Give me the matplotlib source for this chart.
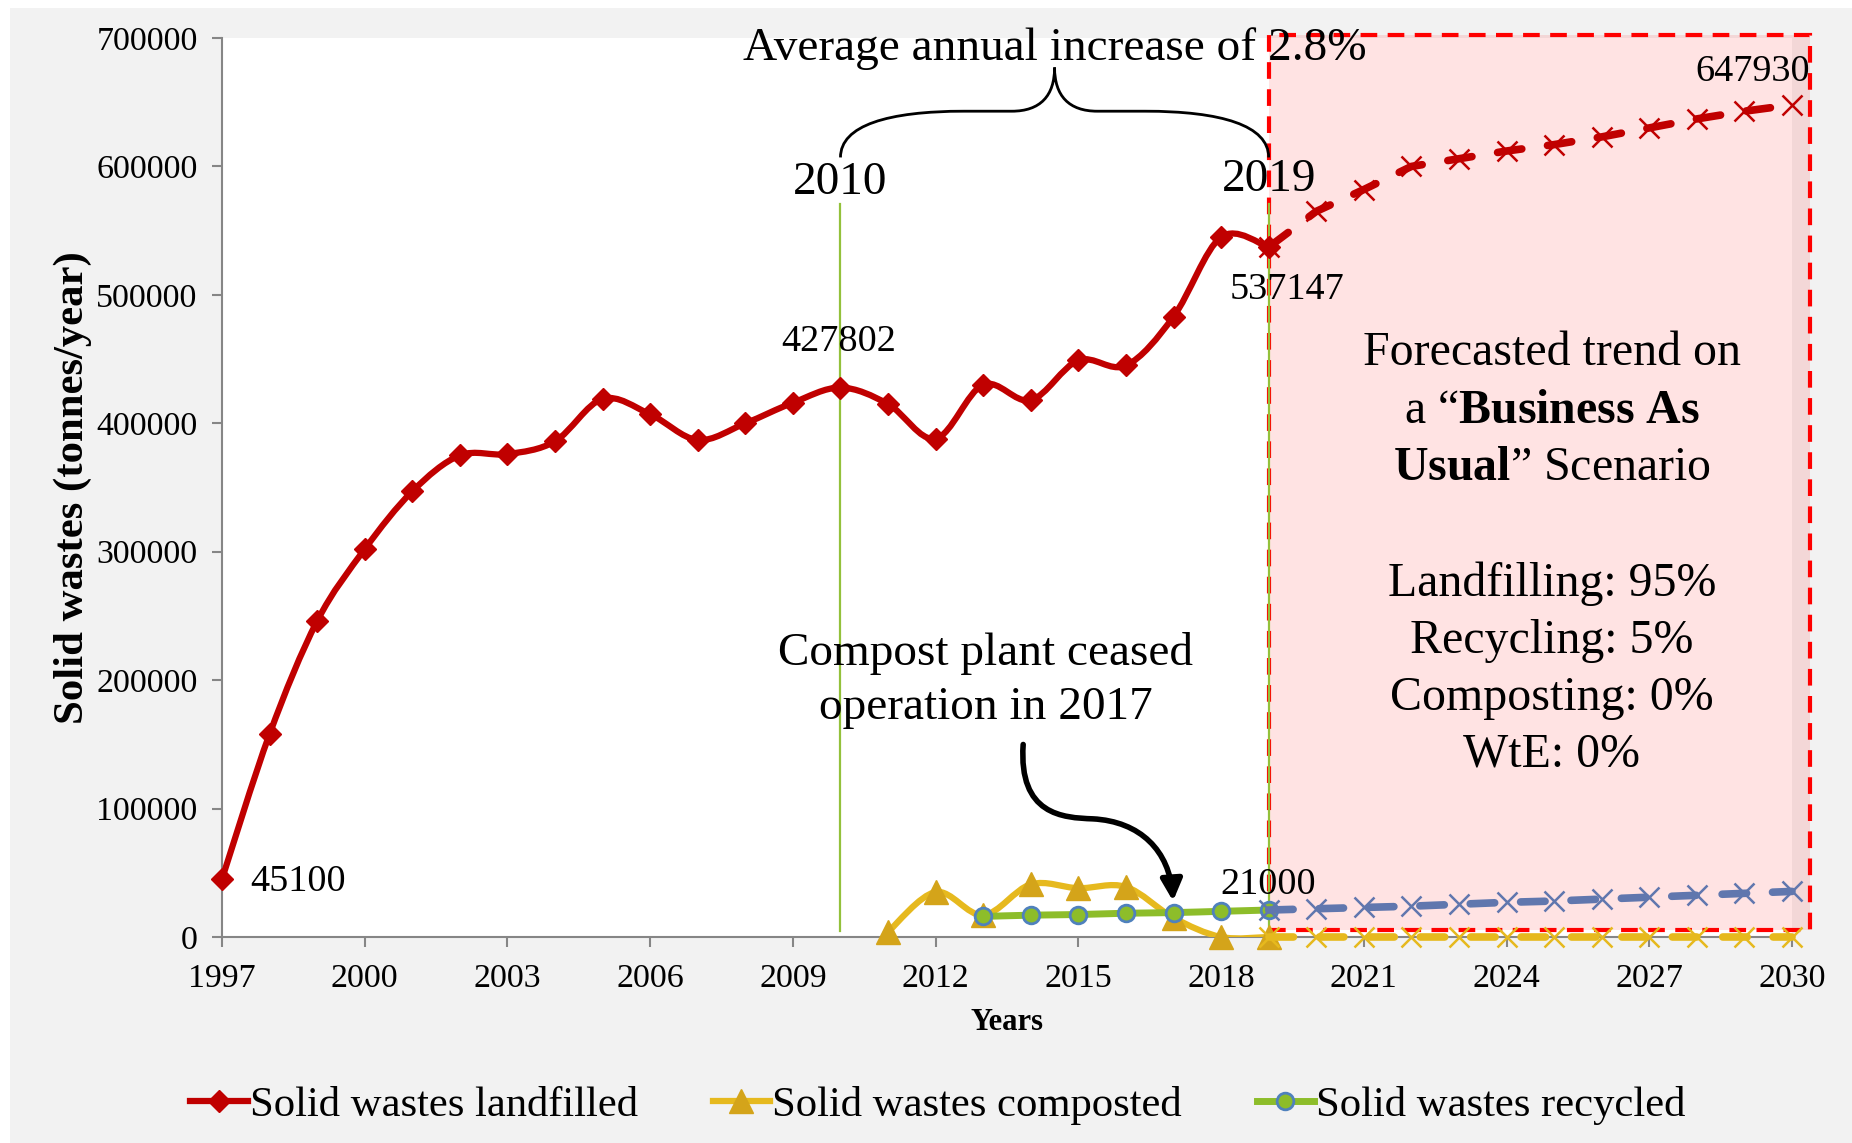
import matplotlib
matplotlib.use("Agg")
import matplotlib.pyplot as plt
import numpy as np
from matplotlib.path import Path
from matplotlib.patches import PathPatch, Rectangle, FancyArrowPatch
from matplotlib.lines import Line2D
from matplotlib.ticker import FuncFormatter

plt.rcParams['font.family'] = ['Liberation Serif', 'DejaVu Serif']
plt.rcParams['mathtext.fontset'] = 'custom'
plt.rcParams['mathtext.rm'] = 'Liberation Serif'
plt.rcParams['mathtext.bf'] = 'Liberation Serif:bold'
plt.rcParams['mathtext.it'] = 'Liberation Serif:italic'

# historical data
years_land = list(range(1997, 2020))
landfilled = [45100, 158000, 246000, 302000, 347000, 375000, 376000, 386000, 419000, 407000,
              387000, 400000, 416000, 427802, 415000, 388000, 430000, 418000, 449000, 445000,
              483000, 545000, 537147]
years_comp = list(range(2011, 2020))
composted = [4000, 35000, 17000, 41000, 38000, 39000, 15000, 0, 0]
years_rec = list(range(2013, 2020))
recycled = [16000, 17000, 17500, 18500, 19000, 20000, 21000]

# "business as usual" forecast
years_fc = list(range(2019, 2031))
fc_landfilled = [537147, 565000, 582000, 600000, 606000, 612000, 617000, 623000, 630000,
                 637000, 643000, 647930]
fc_composted = [0] * 12
fc_recycled = [21000, 22000, 23000, 24000, 25500, 27000, 28000, 29500, 31000, 32500, 34000, 35500]

RED = '#c00000'
YEL = '#e6b91e'
YEL_M = '#d4a41a'
GRN = '#8dbd2a'
BLUE_E = '#4f81bd'
FC_BLUE = '#6077ae'
VGREEN = '#93c13b'


def smooth_path(x, y):
    # excel-like smoothed line as cubic bezier path
    n = len(x)
    verts = [(x[0], y[0])]
    codes = [Path.MOVETO]
    for i in range(n - 1):
        a = max(i - 1, 0)
        d = min(i + 2, n - 1)
        c1 = (x[i] + (x[i + 1] - x[a]) / 6.0, y[i] + (y[i + 1] - y[a]) / 6.0)
        c2 = (x[i + 1] - (x[d] - x[i]) / 6.0, y[i + 1] - (y[d] - y[i]) / 6.0)
        verts += [c1, c2, (x[i + 1], y[i + 1])]
        codes += [Path.CURVE4] * 3
    return Path(verts, codes)


fig = plt.figure(figsize=(18.52, 11.43), dpi=100, facecolor='white')
fig.add_artist(Rectangle((10 / 1852, 0), 1, 1 - 8 / 1143, transform=fig.transFigure,
                         facecolor='#f2f2f2', edgecolor='none', zorder=-10))
ax = fig.add_axes([222 / 1852, 1 - 937 / 1143, 1570 / 1852, 899 / 1143])
ax.set_facecolor('white')
ax.set_xlim(1997, 2030)
ax.set_ylim(0, 700000)

# forecast box
ax.add_patch(Rectangle((2019, 5500), 11.37, 696500, facecolor=(1, 0, 0, 0.11),
                       edgecolor='#ff0000', lw=3, linestyle=(0, (4, 2.5)),
                       clip_on=False, zorder=1))

# vertical markers for 2010 and 2019
ax.plot([2010, 2010], [5000, 571000], color=VGREEN, lw=1.6, zorder=2)
ax.plot([2019, 2019], [0, 571000], color=VGREEN, lw=1.6, zorder=2)

# historical smoothed lines
ax.add_patch(PathPatch(smooth_path(years_comp, composted), fill=False, edgecolor=YEL,
                       lw=4.5, zorder=3, capstyle='round'))
ax.plot(years_comp, composted, ls='none', marker='^', ms=17, color=YEL_M, zorder=4, clip_on=False)
ax.add_patch(PathPatch(smooth_path(years_rec, recycled), fill=False, edgecolor=GRN,
                       lw=5, zorder=5))
ax.plot(years_rec, recycled, ls='none', marker='o', ms=12, mfc=GRN, mec=BLUE_E, mew=2, zorder=6)
ax.add_patch(PathPatch(smooth_path(years_land, landfilled), fill=False, edgecolor=RED,
                       lw=4.5, zorder=7))
ax.plot(years_land, landfilled, ls='none', marker='D', ms=11.5, color=RED, zorder=8, clip_on=False)

# forecast lines
for vals, col in [(fc_composted, YEL), (fc_recycled, FC_BLUE), (fc_landfilled, RED)]:
    ax.plot(years_fc, vals, color=col, lw=5.5, linestyle=(0, (3.2, 3.4)),
            dash_capstyle='round', marker='x', ms=15, mew=1.8, zorder=9, clip_on=False)

# axes styling
for s in ['top', 'right']:
    ax.spines[s].set_visible(False)
for s in ['left', 'bottom']:
    ax.spines[s].set_color('#868686')
    ax.spines[s].set_linewidth(1.5)
ax.set_xticks(range(1997, 2031, 3))
ax.set_yticks(range(0, 700001, 100000))
ax.yaxis.set_major_formatter(FuncFormatter(lambda v, p: f"{int(v)}"))
ax.tick_params(axis='both', direction='out', length=7, width=1.5, color='#868686',
               labelsize=24.4)
ax.tick_params(axis='y', pad=10.5)
ax.tick_params(axis='x', pad=12)
ax.set_ylabel('Solid wastes (tonnes/year)', fontsize=30.8, fontweight='bold', labelpad=3)
ax.set_xlabel('Years', fontsize=22, fontweight='bold', labelpad=10.5)

# data labels
ax.annotate('45100', (1997, 45100), xytext=(20, -2), textcoords='offset points',
            ha='left', va='center', fontsize=27.5, zorder=10)
ax.annotate('427802', (2010, 427802), xytext=(-1, 33), textcoords='offset points',
            ha='center', va='center', fontsize=27.5, zorder=10)
ax.annotate('537147', (2019, 537147), xytext=(13, -31), textcoords='offset points',
            ha='center', va='center', fontsize=27.5, zorder=10)
ax.annotate('647930', (2030, 647930), xytext=(-28, 24), textcoords='offset points',
            ha='center', va='center', fontsize=27.5, zorder=10, annotation_clip=False)
ax.annotate('21000', (2019, 21000), xytext=(0, 18), textcoords='offset points',
            ha='center', va='center', fontsize=27.5, zorder=10)

# brace over 2010-2019
mid = 2014.5
brace = Path([(2010, 607000), (2010, 632000), (2011, 643000), (2012.6, 643000),
              (2013.6, 643000), (2014.2, 643000), (mid, 655000), (mid, 677000),
              (mid, 655000), (2014.8, 643000), (2015.4, 643000),
              (2016.4, 643000), (2018, 643000), (2019, 632000), (2019, 607000)],
             [Path.MOVETO, Path.CURVE4, Path.CURVE4, Path.CURVE4, Path.LINETO,
              Path.CURVE4, Path.CURVE4, Path.CURVE4, Path.CURVE4, Path.CURVE4, Path.CURVE4,
              Path.LINETO, Path.CURVE4, Path.CURVE4, Path.CURVE4])
ax.add_patch(PathPatch(brace, fill=False, edgecolor='black', lw=2, zorder=10, clip_on=False))
ax.text(mid, 692000, 'Average annual increase of 2.8%', ha='center', va='center',
        fontsize=34, zorder=11)
ax.text(2010, 587000, '2010', ha='center', va='center', fontsize=34, zorder=11)
ax.text(2019, 590000, '2019', ha='center', va='center', fontsize=34, zorder=11)

# compost note and arrow
ax.text(2013.05, 199600, 'Compost plant ceased\noperation in 2017', ha='center', va='center',
        fontsize=34, linespacing=1.36, zorder=11)
arrow_path = Path([(2013.84, 149900), (2013.74, 94700), (2014.68, 92900), (2015.30, 92000),
                   (2016.30, 90100), (2016.92, 67100), (2016.99, 28000)],
                  [Path.MOVETO, Path.CURVE4, Path.CURVE4, Path.CURVE4,
                   Path.CURVE4, Path.CURVE4, Path.CURVE4])
ax.add_patch(FancyArrowPatch(path=arrow_path, arrowstyle='-|>', mutation_scale=32,
                             lw=4, color='black', zorder=11))

# scenario text in the forecast box
bx = 2024.95
ax.text(bx, 454500, 'Forecasted trend on', ha='center', va='center', fontsize=34.5, zorder=11)
ax.text(bx, 409500, r'a “$\mathbf{Business\ As}$', ha='center', va='center', fontsize=34.5, zorder=11)
ax.text(bx, 365500, r'$\mathbf{Usual}$” Scenario', ha='center', va='center', fontsize=34.5, zorder=11)
ax.text(bx, 208800, 'Landfilling: 95%\nRecycling: 5%\nComposting: 0%\nWtE: 0%', ha='center',
        va='center', fontsize=34.5, linespacing=1.38, zorder=11)

# legend
handles = [
    Line2D([], [], color=RED, lw=4.5, marker='D', ms=11.5),
    Line2D([], [], color=YEL, lw=4.5, marker='^', ms=17, mfc=YEL_M, mec=YEL_M),
    Line2D([], [], color=GRN, lw=5, marker='o', ms=12, mfc=GRN, mec=BLUE_E, mew=2),
]
labels = ['Solid wastes landfilled', 'Solid wastes composted', 'Solid wastes recycled']
fig.legend(handles, labels, loc='center', bbox_to_anchor=(0.5065, 0.033), ncol=3,
           frameon=False, fontsize=30.7, handlelength=1.35, handletextpad=0.05,
           columnspacing=1.75)

fig.savefig('out.png', dpi=100, facecolor=fig.get_facecolor())
